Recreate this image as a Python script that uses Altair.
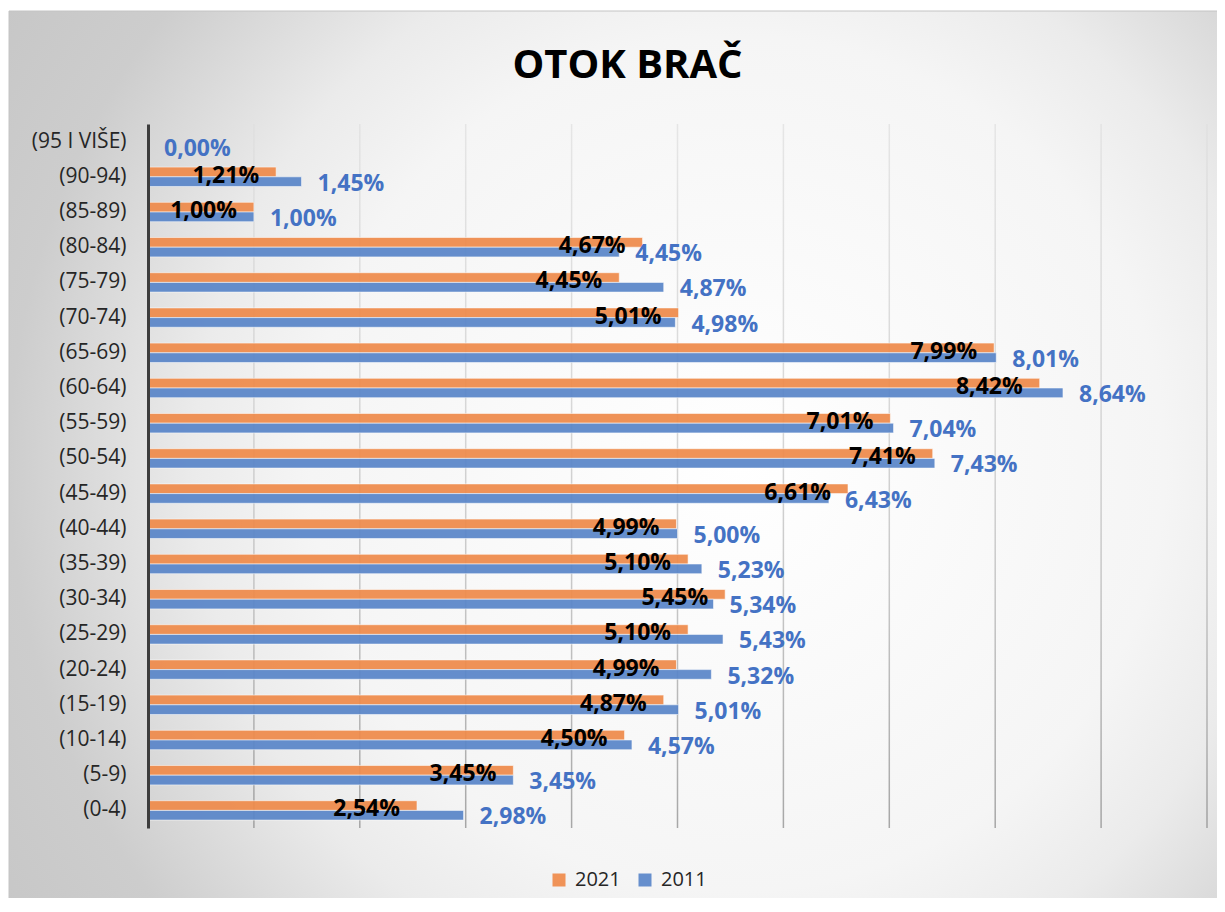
import altair as alt
import pandas as pd

categories = ["(95 I VIŠE)", "(90-94)", "(85-89)", "(80-84)", "(75-79)", "(70-74)",
              "(65-69)", "(60-64)", "(55-59)", "(50-54)", "(45-49)", "(40-44)",
              "(35-39)", "(30-34)", "(25-29)", "(20-24)", "(15-19)", "(10-14)",
              "(5-9)", "(0-4)"]
v2021 = [None, 1.21, 1.00, 4.67, 4.45, 5.01, 7.99, 8.42, 7.01, 7.41, 6.61, 4.99,
         5.10, 5.45, 5.10, 4.99, 4.87, 4.50, 3.45, 2.54]
v2011 = [0.00, 1.45, 1.00, 4.45, 4.87, 4.98, 8.01, 8.64, 7.04, 7.43, 6.43, 5.00,
         5.23, 5.34, 5.43, 5.32, 5.01, 4.57, 3.45, 2.98]
years = ["2021", "2011"]
grid_values = [1, 2, 3, 4, 5, 6, 7, 8, 9, 10]

ORANGE = "#EF8B4B"
BLUE = "#5A86C9"
BLUE_TEXT = "#4472C4"
FONT = "Open Sans"

rows = []
for c, a, b in zip(categories, v2021, v2011):
    rows.append({"cat": c, "year": "2021", "v": a})
    rows.append({"cat": c, "year": "2011", "v": b})
df = pd.DataFrame(rows)
df["lab"] = df["v"].apply(lambda x: "" if pd.isna(x) else f"{x:.2f}".replace(".", ",") + "%")

W, H = 1059, 704

xscale = alt.Scale(domain=[0, 10], nice=False, zero=True)
yenc = alt.Y("cat:N", sort=categories,
             scale=alt.Scale(paddingInner=0.45, paddingOuter=0.225),
             axis=alt.Axis(title=None, ticks=False, labelPadding=22, labelFontSize=21,
                           labelFont=FONT, labelColor="#262626", domainColor="#3d3d3d",
                           domainWidth=3, grid=False, zindex=1))

bg = alt.Chart(pd.DataFrame({"a": [0]})).mark_rect(
    fill=alt.RadialGradient(gradient="radial", x1=0.6, y1=0.5, r1=0, x2=0.6, y2=0.5, r2=0.8,
                            stops=[alt.GradientStop(offset=0, color="#ffffff"),
                                   alt.GradientStop(offset=0.44, color="#f5f5f5"),
                                   alt.GradientStop(offset=0.56, color="#ebebeb"),
                                   alt.GradientStop(offset=0.75, color="#cdcdcd"),
                                   alt.GradientStop(offset=1, color="#c2c2c2")]),
    stroke="#c4c4c4", strokeWidth=1
).encode(x=alt.value(-139), x2=alt.value(1075), y=alt.value(-113), y2=alt.value(792))

grid = alt.Chart(pd.DataFrame({"g": grid_values})).mark_tick(
    orient="vertical", thickness=1.5, size=H,
    color=alt.LinearGradient(gradient="linear", x1=0, x2=0, y1=0, y2=1,
                             stops=[alt.GradientStop(offset=0, color="#dedede"),
                                    alt.GradientStop(offset=0.4, color="#c8c8c8"),
                                    alt.GradientStop(offset=0.65, color="#b2b2b2"),
                                    alt.GradientStop(offset=1, color="#858585")])
).encode(x=alt.X("g:Q", scale=xscale, axis=None))

bars = alt.Chart(df).mark_bar(stroke="white", strokeWidth=1, strokeOpacity=0.55, opacity=0.93).encode(
    x=alt.X("v:Q", scale=xscale, axis=None),
    y=yenc,
    yOffset=alt.YOffset("year:N", sort=years, scale=alt.Scale(paddingInner=0, paddingOuter=0)),
    color=alt.Color("year:N", sort=years,
                    scale=alt.Scale(domain=years, range=[ORANGE, BLUE]),
                    legend=alt.Legend(title=None, orient="none", direction="horizontal",
                                      legendX=401, legendY=746, padding=0,
                                      symbolType="square", symbolSize=169,
                                      symbolStrokeWidth=0, labelFontSize=20,
                                      labelFont=FONT, labelColor="#262626",
                                      labelOffset=6, columnPadding=14)),
)

lab21 = alt.Chart(df).transform_filter("datum.year == '2021' && datum.v != null").mark_text(
    align="right", baseline="middle", dx=-17, dy=-1, font=FONT, fontWeight="bold",
    fontSize=23, color="black"
).encode(x=alt.X("v:Q", scale=xscale, axis=None), y=yenc, text="lab:N")

lab11 = alt.Chart(df).transform_filter("datum.year == '2011' && datum.v != null").mark_text(
    align="left", baseline="middle", dx=16, dy=7, font=FONT, fontWeight="bold",
    fontSize=23, color=BLUE_TEXT
).encode(x=alt.X("v:Q", scale=xscale, axis=None), y=yenc, text="lab:N")

chart = alt.layer(bg, grid, bars, lab21, lab11).properties(
    width=W, height=H,
    autosize=alt.AutoSizeParams(type="none"),
    padding={"left": 140, "top": 116, "right": 10, "bottom": 70},
    title=alt.Title("OTOK BRAČ", fontSize=40, font=FONT, fontWeight="bold", color="black",
                    anchor="middle", frame="group", baseline="alphabetic",
                    dx=-50, offset=-107, zindex=1),
).configure_view(stroke=None).configure(background="white")

chart.save("out.html", embed_options={"renderer": "svg", "actions": False})
